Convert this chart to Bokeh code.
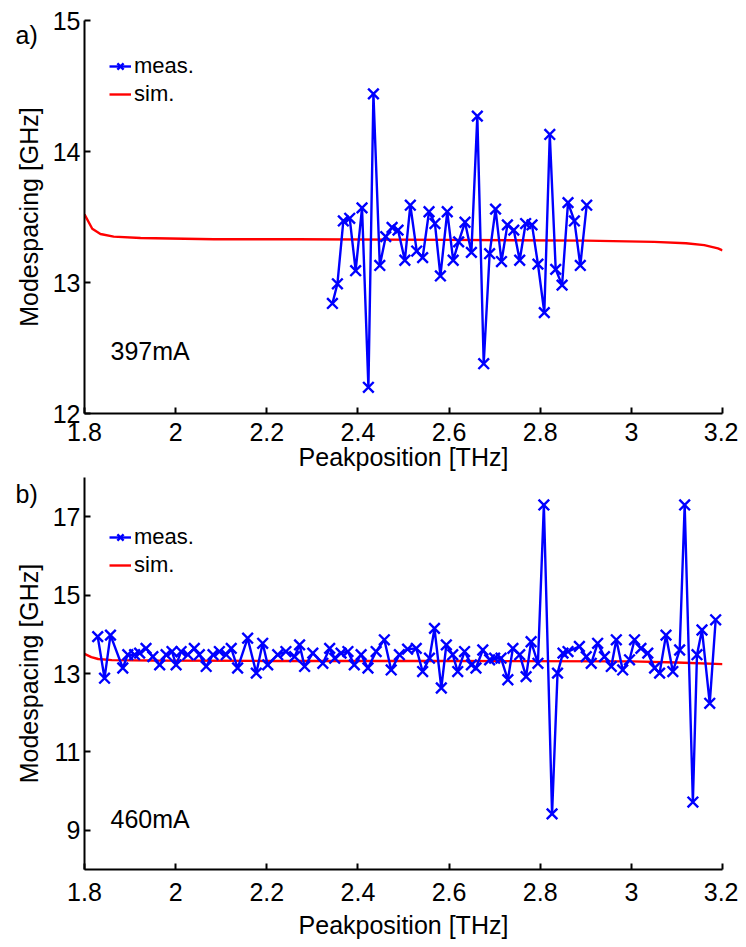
from bokeh.plotting import figure
from bokeh.layouts import column
from bokeh.models import (FixedTicker, CustomJSTickFormatter, Legend, LegendItem,
                          Label, Range1d, Title)
from bokeh.embed import file_html
from bokeh.resources import INLINE

# ---------------- data ----------------
# panel a) 397mA
meas_a_x = [2.344, 2.355, 2.368, 2.382, 2.395, 2.409, 2.423, 2.434, 2.448, 2.461,
            2.475, 2.488, 2.503, 2.515, 2.529, 2.542, 2.556, 2.569, 2.581, 2.596,
            2.609, 2.621, 2.635, 2.649, 2.662, 2.676, 2.689, 2.702, 2.715, 2.728,
            2.742, 2.755, 2.768, 2.782, 2.795, 2.809, 2.821, 2.834, 2.848, 2.861,
            2.875, 2.888, 2.902]
meas_a_y = [12.84, 12.99, 13.47, 13.49, 13.09, 13.57, 12.20, 14.44, 13.13, 13.35,
            13.42, 13.40, 13.17, 13.59, 13.24, 13.19, 13.54, 13.45, 13.05, 13.54,
            13.17, 13.31, 13.46, 13.23, 14.27, 12.38, 13.22, 13.56, 13.16, 13.44,
            13.40, 13.17, 13.45, 13.44, 13.14, 12.77, 14.13, 13.10, 12.98, 13.61,
            13.47, 13.13, 13.59]
sim_a_x = [1.800, 1.817, 1.835, 1.864, 1.923, 2.084, 2.267, 2.600, 2.900, 3.050,
           3.120, 3.160, 3.190, 3.200]
sim_a_y = [13.52, 13.41, 13.37, 13.35, 13.34, 13.33, 13.33, 13.325, 13.32, 13.31,
           13.30, 13.285, 13.26, 13.245]

# panel b) 460mA
meas_b_x = [1.829, 1.844, 1.857, 1.884, 1.895, 1.910, 1.921, 1.935, 1.950, 1.965,
            1.979, 1.992, 2.001, 2.012, 2.027, 2.041, 2.052, 2.067, 2.082, 2.096,
            2.111, 2.122, 2.136, 2.158, 2.177, 2.191, 2.202, 2.224, 2.242, 2.261,
            2.272, 2.283, 2.301, 2.323, 2.338, 2.349, 2.363, 2.378, 2.392, 2.407,
            2.422, 2.440, 2.458, 2.473, 2.491, 2.509, 2.528, 2.542, 2.557, 2.568,
            2.583, 2.594, 2.608, 2.619, 2.634, 2.649, 2.659, 2.674, 2.689, 2.700,
            2.714, 2.729, 2.740, 2.755, 2.769, 2.780, 2.795, 2.808, 2.826, 2.838,
            2.850, 2.861, 2.886, 2.901, 2.912, 2.926, 2.941, 2.956, 2.967, 2.981,
            2.996, 3.007, 3.021, 3.036, 3.051, 3.062, 3.076, 3.091, 3.106, 3.117,
            3.135, 3.144, 3.155, 3.172, 3.185]
meas_b_y = [13.94, 12.88, 13.98, 13.14, 13.48, 13.48, 13.52, 13.64, 13.43, 13.22,
            13.48, 13.56, 13.22, 13.56, 13.48, 13.64, 13.48, 13.18, 13.48, 13.56,
            13.48, 13.64, 13.14, 13.90, 13.01, 13.77, 13.22, 13.48, 13.56, 13.43,
            13.73, 13.18, 13.52, 13.26, 13.64, 13.39, 13.52, 13.56, 13.22, 13.48,
            13.14, 13.56, 13.86, 13.09, 13.48, 13.62, 13.64, 13.05, 13.39, 14.15,
            12.63, 13.73, 13.48, 13.05, 13.56, 13.22, 13.14, 13.60, 13.35, 13.39,
            13.39, 12.84, 13.64, 13.48, 12.92, 13.81, 13.26, 17.30, 9.42, 13.01,
            13.52, 13.56, 13.69, 13.43, 13.26, 13.77, 13.43, 13.18, 13.86, 13.09,
            13.35, 13.86, 13.64, 13.52, 13.14, 13.01, 13.98, 13.05, 13.60, 17.30,
            9.72, 13.48, 14.11, 12.24, 14.37]
sim_b_x = [1.800, 1.815, 1.830, 1.860, 1.950, 2.200, 2.600, 3.000, 3.100, 3.200]
sim_b_y = [13.50, 13.42, 13.37, 13.34, 13.33, 13.32, 13.32, 13.31, 13.28, 13.24]

x_ticks = [1.8, 2.0, 2.2, 2.4, 2.6, 2.8, 3.0, 3.2]
y_ticks_a = [12, 13, 14, 15]
y_ticks_b = [9, 11, 13, 15, 17]

FONT = "Liberation Sans"
FS = "25px"
LFS = "22px"
BLUE = "#0000FF"
RED = "#FF0000"


def make_panel(mx, my, sx, sy, yr, yticks, tag, cur, leg_meas_y, leg_sim_y,
               tag_standoff, cur_y, min_top, frame_h, xl_standoff, xal_standoff):
    p = figure(frame_width=638, frame_height=frame_h,
               min_border_left=84, min_border_right=16,
               min_border_top=min_top, min_border_bottom=64,
               x_range=Range1d(1.8, 3.2), y_range=Range1d(*yr),
               output_backend="svg", toolbar_location=None)
    p.outline_line_color = None
    p.grid.visible = False
    p.background_fill_color = "white"
    p.border_fill_color = "white"

    sim_r = p.line(sx, sy, line_color=RED, line_width=2.4)
    meas_l = p.line(mx, my, line_color=BLUE, line_width=2.4)
    meas_s = p.scatter(mx, my, marker="x", size=15, line_color=BLUE, line_width=2.4)

    for ax in (p.xaxis[0], p.yaxis[0]):
        ax.axis_line_width = 2
        ax.axis_line_color = "black"
        ax.major_tick_in = 6
        ax.major_tick_out = 0
        ax.major_tick_line_width = 2
        ax.minor_tick_line_color = None
        ax.major_label_text_font = FONT
        ax.major_label_text_font_size = FS
        ax.major_label_text_color = "black"
        ax.axis_label_text_font = FONT
        ax.axis_label_text_font_size = FS
        ax.axis_label_text_font_style = "normal"
        ax.axis_label_text_color = "black"

    p.xaxis.ticker = FixedTicker(ticks=x_ticks)
    p.xaxis.formatter = CustomJSTickFormatter(
        code="return String(Math.round(tick*10)/10);")
    p.xaxis.axis_label = "Peakposition [THz]"
    p.xaxis.major_label_standoff = xl_standoff
    p.xaxis.axis_label_standoff = xal_standoff

    p.yaxis.ticker = FixedTicker(ticks=yticks)
    p.yaxis.axis_label = "Modespacing [GHz]"
    p.yaxis.major_label_standoff = 4
    p.yaxis.axis_label_standoff = 7

    common = dict(border_line_alpha=0, background_fill_alpha=0, padding=0,
                  margin=0, spacing=0, glyph_width=22, glyph_height=24,
                  label_height=24, label_standoff=3,
                  label_text_font=FONT, label_text_font_size=LFS,
                  label_text_color="black")
    leg1 = Legend(items=[LegendItem(label="meas.", renderers=[meas_l, meas_s])],
                  location=(25, leg_meas_y), **common)
    leg2 = Legend(items=[LegendItem(label="sim.", renderers=[sim_r])],
                  location=(25, leg_sim_y), **common)
    p.add_layout(leg1)
    p.add_layout(leg2)

    p.add_layout(Title(text=tag, align="left", offset=-69, standoff=tag_standoff,
                       vertical_align="bottom", text_font=FONT,
                       text_font_size=FS, text_font_style="normal",
                       text_color="black"), "above")
    p.add_layout(Label(x=1.857, y=cur_y, text=cur, text_font=FONT,
                       text_font_size=FS, text_baseline="middle",
                       text_color="black"))
    return p


pa = make_panel(meas_a_x, meas_a_y, sim_a_x, sim_a_y, (12, 15), y_ticks_a,
                "a)", "397mA", 334, 306, -57, 12.48, 20, 393, 9, -1)
pb = make_panel(meas_b_x, meas_b_y, sim_b_x, sim_b_y, (8, 18), y_ticks_b,
                "b)", "460mA", 319, 291, -60, 9.285, 0, 392, 13, 7)

layout = column(pa, pb, spacing=0)
open("out.html", "w").write(file_html(layout, INLINE))
